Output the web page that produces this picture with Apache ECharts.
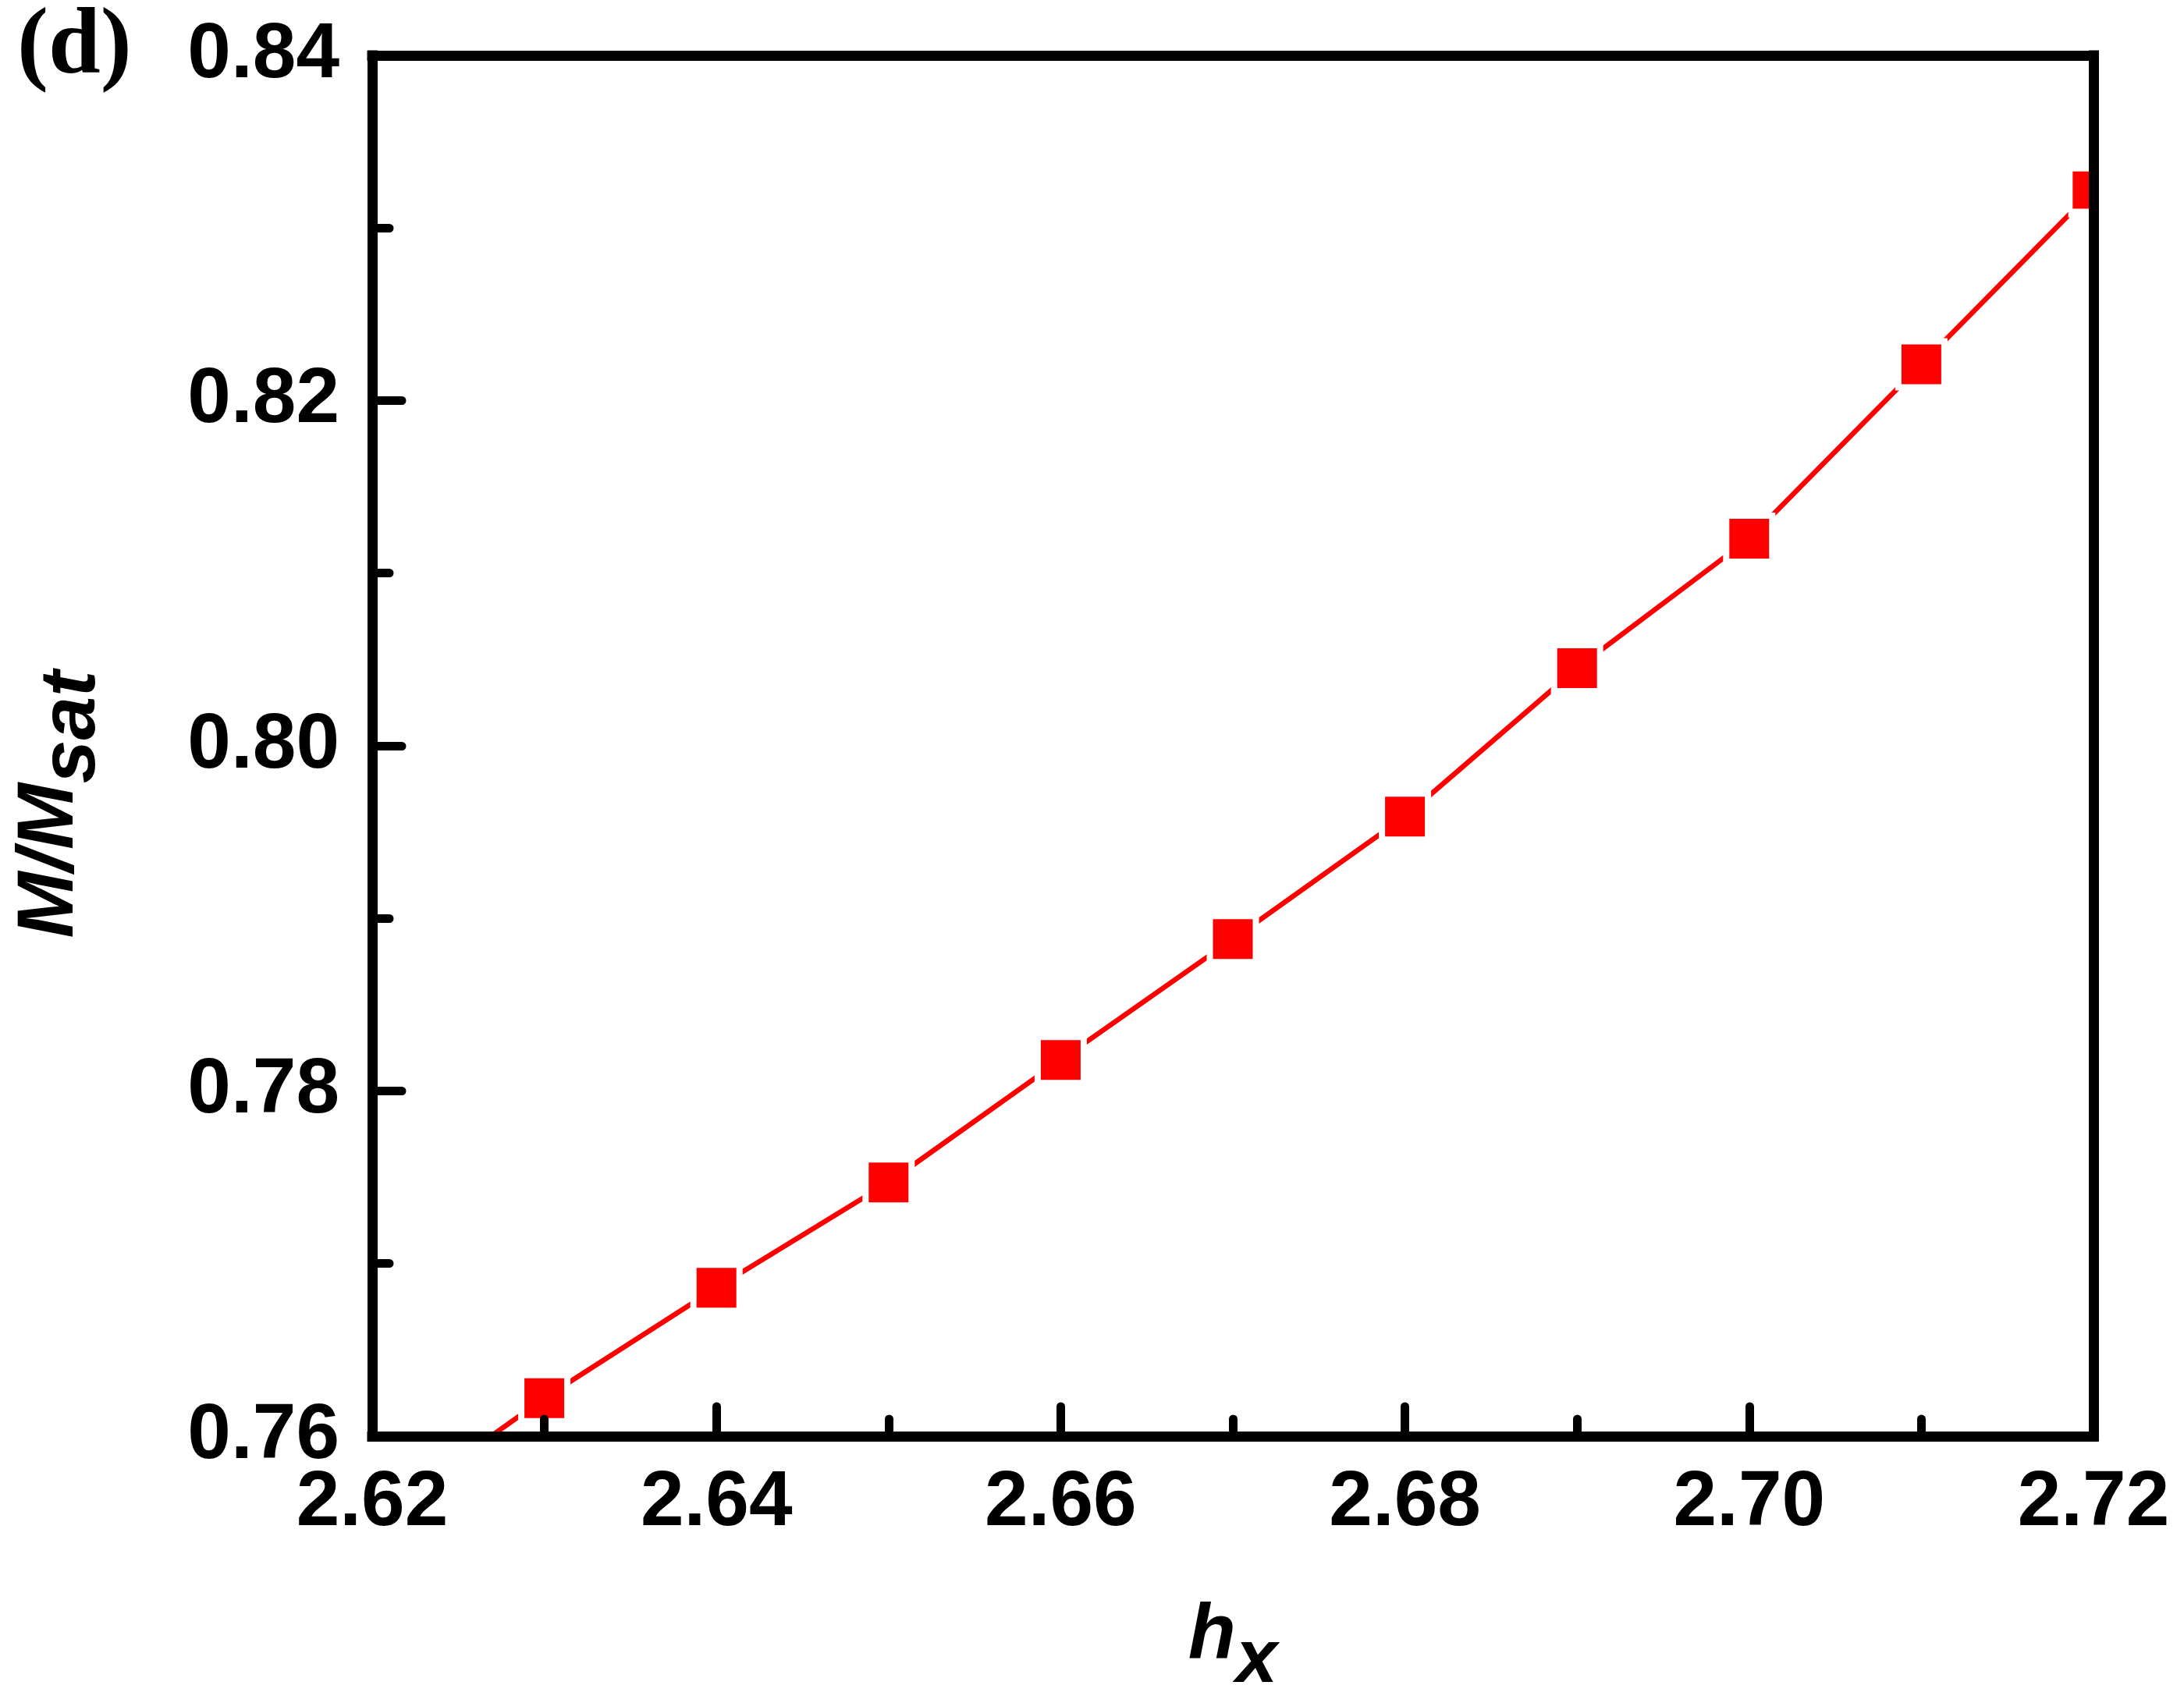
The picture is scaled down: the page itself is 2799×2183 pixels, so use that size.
<!DOCTYPE html>
<html>
<head>
<meta charset="utf-8">
<script src="https://cdn.jsdelivr.net/npm/echarts@6/dist/echarts.min.js"></script>
<style>
  html, body { margin: 0; padding: 0; background: #fff; }
  #chart { width: 2799px; height: 2183px; }
</style>
</head>
<body>
<div id="chart"></div>
<script>
// ---- data ----
const hx = [2.62, 2.63, 2.64, 2.65, 2.66, 2.67, 2.68, 2.69, 2.70, 2.71, 2.72];
const mRatio = [0.7551, 0.7622, 0.7686, 0.7747, 0.7818, 0.7888, 0.7959, 0.8045, 0.8120, 0.8221, 0.8322];
const xTicks = { min: 2.62, max: 2.72, step: 0.02 };
const yTicks = { min: 0.76, max: 0.84, step: 0.02 };
const panelLabel = '(d)';

const chart = echarts.init(document.getElementById('chart'), null, { renderer: 'canvas' });

const SANS = '"Liberation Sans", Arial, sans-serif';
const AX_W = 13;
const RED = '#ff0000';

const baseAxis = {
  type: 'value',
  z: 5,
  axisLine: { show: true, onZero: false, lineStyle: { color: '#000', width: AX_W, cap: 'square' } },
  splitLine: { show: false },
};

const lastIdx = hx.length - 1;
const seriesData = hx.map((x, i) => {
  const item = { value: [x, mRatio[i]] };
  if (i === lastIdx) {
    // marker sits on the right frame: only its left half is inside the plot
    item.symbol = 'path://M0,0 L1,0 L1,2 L0,2 Z';
    item.symbolSize = [29.5, 59];
    item.symbolOffset = [-14.75, 0];
  }
  return item;
});

const option = {
  backgroundColor: '#fff',
  animation: false,
  grid: { left: 477, right: 116, top: 71, bottom: 332, containLabel: false },
  xAxis: [
    Object.assign({}, baseAxis, {
      position: 'bottom',
      min: xTicks.min, max: xTicks.max, interval: xTicks.step,
      axisTick: { show: true, inside: true, length: 38, lineStyle: { color: '#000', width: 11, cap: 'round' } },
      minorTick: { show: true, splitNumber: 2, length: 22, lineStyle: { color: '#000', width: 11, cap: 'round' } },
      axisLabel: {
        show: true, margin: 36, color: '#000',
        fontFamily: SANS, fontWeight: 'bold', fontSize: 100,
        formatter: v => v.toFixed(2)
      },
      name: '{h|h}{s|x}',
      nameLocation: 'middle',
      nameGap: 177,
      nameTextStyle: {
        color: '#000', fontFamily: SANS, fontStyle: 'italic', fontWeight: 'bold', fontSize: 100,
        rich: {
          h: { color: '#000', fontFamily: SANS, fontStyle: 'italic', fontWeight: 'bold', fontSize: 100 },
          s: { color: '#000', fontFamily: SANS, fontStyle: 'italic', fontWeight: 'bold', fontSize: 96, padding: [64, 0, 0, 0] }
        }
      }
    }),
    Object.assign({}, baseAxis, {
      position: 'top',
      min: xTicks.min, max: xTicks.max, interval: xTicks.step,
      axisTick: { show: false }, minorTick: { show: false }, axisLabel: { show: false }
    })
  ],
  yAxis: [
    Object.assign({}, baseAxis, {
      position: 'left',
      min: yTicks.min, max: yTicks.max, interval: yTicks.step,
      axisTick: { show: true, inside: true, length: 38, lineStyle: { color: '#000', width: 11, cap: 'round' } },
      minorTick: { show: true, splitNumber: 2, length: 22, lineStyle: { color: '#000', width: 11, cap: 'round' } },
      axisLabel: {
        show: true, margin: 42, color: '#000',
        fontFamily: SANS, fontWeight: 'bold', fontSize: 100,
        formatter: v => v.toFixed(2)
      },
      name: '{m|M/M}{s|sat}',
      nameLocation: 'middle',
      nameGap: 334,
      nameTextStyle: {
        color: '#000', fontFamily: SANS, fontStyle: 'italic', fontWeight: 'bold', fontSize: 100,
        padding: [0, 150, 0, 0],
        rich: {
          m: { color: '#000', fontFamily: SANS, fontStyle: 'italic', fontWeight: 'bold', fontSize: 102 },
          s: { color: '#000', fontFamily: SANS, fontStyle: 'italic', fontWeight: 'bold', fontSize: 100, padding: [56, 0, 0, 0] }
        }
      }
    }),
    Object.assign({}, baseAxis, {
      position: 'right',
      min: yTicks.min, max: yTicks.max, interval: yTicks.step,
      axisTick: { show: false }, minorTick: { show: false }, axisLabel: { show: false }
    })
  ],
  graphic: [
    {
      type: 'text', left: 22, top: 2, z: 10,
      style: { text: panelLabel, fill: '#000', font: 'bold 120px "Liberation Serif", "Times New Roman", serif' }
    }
  ],
  series: [
    {
      type: 'line',
      xAxisIndex: 0, yAxisIndex: 0,
      data: seriesData,
      clip: true,
      z: 2,
      symbol: 'rect',
      symbolSize: 59,
      showAllSymbol: true,
      lineStyle: { color: RED, width: 6.5 },
      itemStyle: { color: RED, borderColor: '#fff', borderWidth: 8 },
      emphasis: { disabled: true }
    }
  ]
};

chart.setOption(option);
</script>
</body>
</html>
